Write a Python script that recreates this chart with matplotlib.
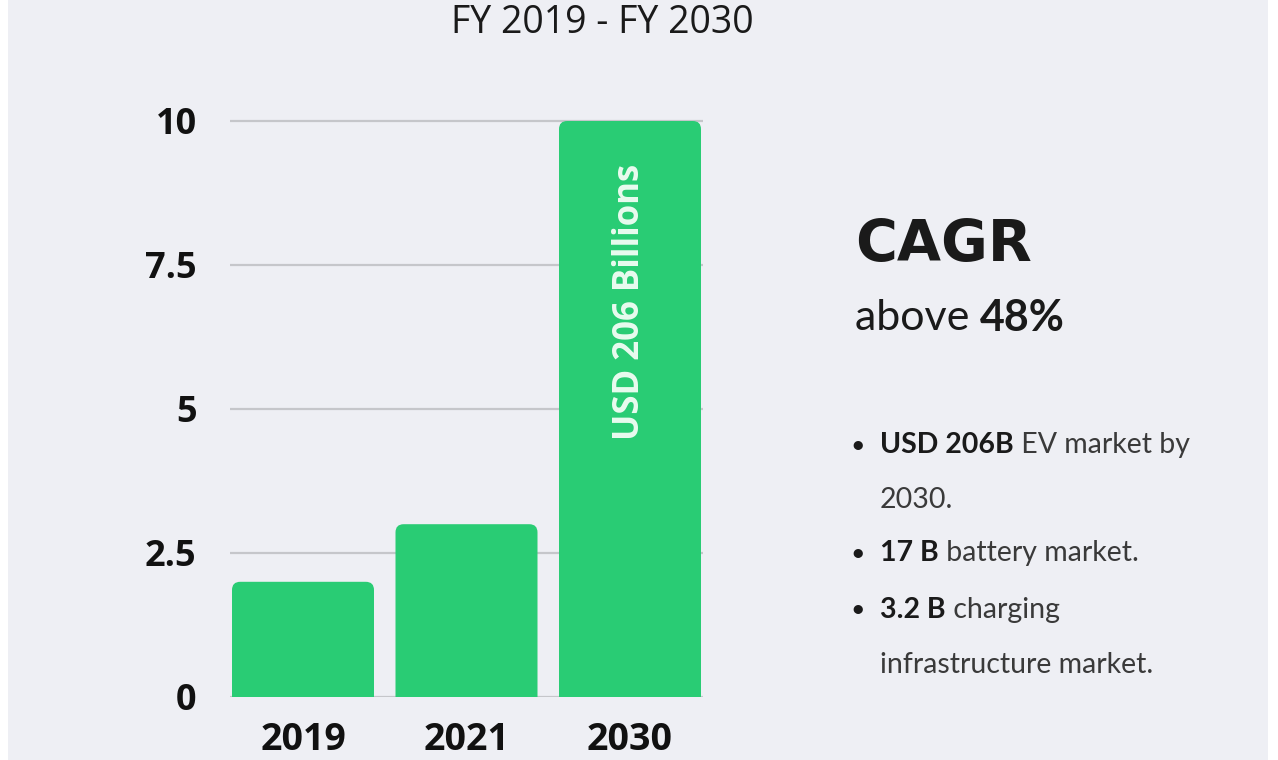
import matplotlib.pyplot as plt
from matplotlib.patches import FancyBboxPatch

# === DATA ===
years = ["2019", "2021", "2030"]
market_size = [2.0, 3.0, 10.0]
y_ticks = [0, 2.5, 5, 7.5, 10]
y_tick_labels = ["0", "2.5", "5", "7.5", "10"]
bar_label = "USD 206 Billions"
title = "FY 2019 - FY 2030"
bullets = [
    ("USD 206B", " EV market by", "2030."),
    ("17 B", " battery market.", None),
    ("3.2 B", " charging", "infrastructure market."),
]

BG = "#eeeff4"
GREEN = "#29cc74"
W, H = 1278, 760

fig = plt.figure(figsize=(W / 100, H / 100), dpi=100)
fig.patch.set_facecolor("white")

# light panel with thin white edges left and right
panel = fig.add_axes([8 / W, 0, 1260 / W, 1])
panel.set_facecolor(BG)
panel.set_xticks([])
panel.set_yticks([])
for s in panel.spines.values():
    s.set_visible(False)

# chart axes in pixel terms: x 230..703, y 0 at 697, 57.6 px per unit
px_x = 163.5
px_y = 57.6
ax_left, ax_right = 230, 703
x_lo, x_hi = -(303 - ax_left) / px_x, (ax_right - 303) / px_x
y_hi = 10.3
ax_top = 697 - y_hi * px_y
ax = fig.add_axes([ax_left / W, (H - 697) / H, (ax_right - ax_left) / W, (697 - ax_top) / H])
ax.set_facecolor("none")
ax.set_ylim(0, y_hi)
ax.set_xlim(x_lo, x_hi)

# plain bars first, then swap them for rounded ones with the same geometry
bars = ax.bar(range(len(years)), market_size, width=142 / px_x, color=GREEN, zorder=3)
for b in bars:
    b.set_visible(False)
    patch = FancyBboxPatch(
        (b.get_x(), -0.5), b.get_width(), b.get_height() + 0.5,
        boxstyle="round,pad=0,rounding_size=0.05",
        mutation_aspect=px_x / px_y,
        facecolor=GREEN, edgecolor="none", zorder=3,
    )
    ax.add_patch(patch)

ax.set_yticks(y_ticks)
ax.set_yticklabels(y_tick_labels, fontsize=26, fontweight="bold", family="Open Sans")
ax.set_xticks(range(len(years)))
ax.set_xticklabels(years, fontsize=27, fontweight="bold", family="Open Sans")
ax.tick_params(axis="y", length=0, pad=24, colors="#111111")
ax.tick_params(axis="x", length=0, pad=17, colors="#111111")
ax.grid(axis="y", color="#c5c6ca", linewidth=1.6, zorder=0)
for s in ax.spines.values():
    s.set_visible(False)

ax.text(len(years) - 1, (697 - 302) / px_y, bar_label, rotation=90, ha="center", va="center",
        color="#e9fbef", fontsize=25, fontweight="bold", family="Open Sans", zorder=4)

fig.text(602 / W, 1 - 23 / H, title, ha="center", va="center",
         fontsize=27, color="#1a1a1a", family="Open Sans")

# right side summary
fig.text(855 / W, 1 - 246 / H, "CAGR", ha="left", va="center",
         fontsize=41, fontweight="bold", color="#1a1a1a", family="DejaVu Sans")
t = fig.text(855 / W, 1 - 318 / H, "above ", ha="left", va="center",
             fontsize=31, color="#1a1a1a", family="Lato")
fig.canvas.draw()
bb = t.get_window_extent()
fig.text(bb.x1 / W, 1 - 318 / H, "48%", ha="left", va="center",
         fontsize=31, fontweight="bold", color="#1a1a1a", family="Lato")

line_y = [445, 553, 610]
for (bold, rest, wrap), y in zip(bullets, line_y):
    fig.text(858 / W, 1 - y / H, "•", ha="center", va="center",
             fontsize=18, color="#1a1a1a", family="Lato")
    tb = fig.text(880 / W, 1 - y / H, bold, ha="left", va="center",
                  fontsize=20.5, fontweight="bold", color="#1a1a1a", family="Lato")
    fig.canvas.draw()
    bb = tb.get_window_extent()
    fig.text(bb.x1 / W, 1 - y / H, rest, ha="left", va="center",
             fontsize=20.5, color="#3a3a3a", family="Lato")
    if wrap:
        fig.text(880 / W, 1 - (y + 55) / H, wrap, ha="left", va="center",
                 fontsize=20.5, color="#3a3a3a", family="Lato")

fig.savefig("out.png", dpi=100, facecolor=fig.get_facecolor())
